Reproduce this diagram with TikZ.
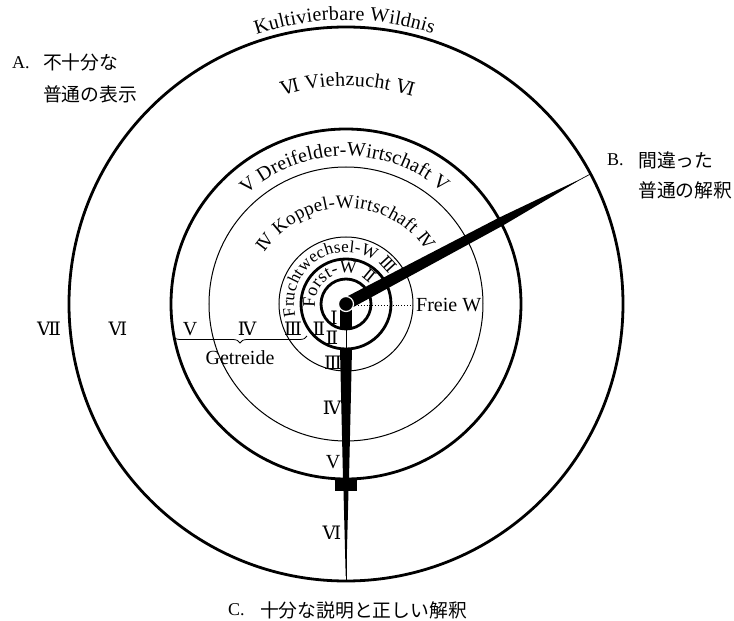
\documentclass[tikz,border=0pt]{standalone}
\usepackage{fontspec}
\setmainfont{Liberation Serif}
\newfontfamily\jpfont{Noto Sans CJK JP}
\newfontfamily\romfont{DejaVu Serif}
\usetikzlibrary{decorations.text,decorations.pathreplacing}
\newcommand\labsize{\rmfamily\fontsize{20}{24}\selectfont}
\newcommand\kopsize{\rmfamily\fontsize{19}{22}\selectfont}
\newcommand\numsize{\romfont\fontsize{18.5}{22}\selectfont}
\newcommand\innum{\romfont\fontsize{16.5}{20}\selectfont}
\newcommand\frsize{\rmfamily\fontsize{17}{20}\selectfont}
\newcommand\fosize{\rmfamily\fontsize{18}{20}\selectfont}
\newcommand\jpsize{\jpfont\fontsize{18.8}{22}\selectfont}
\tikzset{
  thickring/.style={line width=2.8pt},
  thinring/.style={line width=1pt},
  num/.style={inner sep=0pt,font=\numsize},
  lab/.style={inner sep=0pt,font=\labsize},
  jp/.style={inner sep=0pt,font=\jpsize,anchor=west},
  lat/.style={inner sep=0pt,font=\rmfamily\fontsize{18}{22}\selectfont,anchor=west},
  arctext/.style={decorate,decoration={text along path,text align=fit to path,text={#1}}},
  handfill/.style={fill=black,draw=none}
}
\begin{document}
\begin{tikzpicture}[x=1pt,y=1pt]
\useasboundingbox (-346,-317) rectangle (388,304);
\coordinate (O) at (0,0);
% rings
\draw[thickring] (O) circle (277);
\draw[thickring] (O) circle (175);
\draw[thinring] (O) circle (137);
\draw[thinring] (O) circle (67);
\draw[thickring] (O) circle (45);
\draw[thickring] (O) circle (25);
% curved labels
\path[arctext={|\labsize|Kultivierbare Wildnis}] (108.4:284) arc[start angle=108.4,end angle=72.2,radius=284];
\path[arctext={|\numsize|Ⅵ|\labsize| Viehzucht |\numsize|Ⅵ}] (106.9:218) arc[start angle=106.9,end angle=72.2,radius=218];
\path[arctext={|\labsize|V  Dreifelder-Wirtschaft  V}] (132.3:148) arc[start angle=132.3,end angle=49.1,radius=148];
\path[arctext={|\innum|Ⅳ|\kopsize| Koppel-Wirtschaft |\innum|Ⅳ}] (147.5:96) arc[start angle=147.5,end angle=33.5,radius=96];
\path[arctext={|\frsize|Fruchtwechsel-W |\innum|Ⅲ}] (194:52) arc[start angle=194,end angle=34,radius=52];
\path[arctext={|\fosize|Forst-W |\innum|Ⅱ}] (187:31) arc[start angle=187,end angle=40,radius=31];
% B hand
\begin{scope}[rotate=28]
\coordinate (Bend) at (277,0);
\fill[handfill] (0,6.2) -- (175,4.4) -- (240,1.5) -- (262,0.3) -- (262,-0.3) -- (240,-1.5) -- (175,-4.4) -- (0,-6.2) -- cycle;
\draw[line width=0.7pt] (O) -- (Bend);
\end{scope}
% C hand
\coordinate (r6) at (0,-25);
\coordinate (r5) at (0,-45);
\coordinate (Cend) at (0,-277);
\fill[handfill] (-6,0) rectangle (6,-25);
\draw[line width=0.8pt] (r6) -- (r5);
\fill[handfill] (-6,-45) -- (6,-45) -- (3,-175) -- (-3,-175) -- cycle;
\fill[handfill] (-11,-175) rectangle (11,-187);
\fill[handfill] (-2.5,-187) -- (2.5,-187) -- (0.3,-272) -- (-0.3,-272) -- cycle;
\draw[line width=0.7pt] (0,-187) -- (Cend);
% hub
\draw[white,line width=1.2pt,fill=black] (O) circle (7.5);
% Freie W
\coordinate (fw0) at (9,-1);
\coordinate (fw1) at (67,-1);
\draw[line width=0.9pt,dash pattern=on 0.9pt off 2pt] (fw0) -- (fw1);
\node[lab,anchor=base west] (freie) at (70,-8) {Freie W};
% Getreide brace
\coordinate (g0) at (-173,-32);
\coordinate (g1) at (-39,-32);
\draw[line width=0.8pt,decorate,decoration={brace,amplitude=7pt,mirror}] (g0) -- (g1);
\node[lab] (getreide) at (-106,-54) {Getreide};
% horizontal numerals
\node[num] (h7) at (-297,-25) {Ⅶ};
\node[num] (h6) at (-228,-25) {Ⅵ};
\node[lab] (h5) at (-156,-25) {V};
\node[num] (h4) at (-99,-25) {Ⅳ};
\node[num] (h3) at (-53,-25) {Ⅲ};
\node[num] (h2) at (-27,-25) {Ⅱ};
% vertical numerals
\node[num] (v1) at (-12,-13.5) {Ⅰ};
\node[num] (v2) at (-14,-33.5) {Ⅱ};
\node[num] (v3) at (-13,-58.5) {Ⅲ};
\node[num] (v4) at (-14,-104) {Ⅳ};
\node[lab] (v5) at (-13,-158) {V};
\node[num] (v6) at (-14,-229) {Ⅵ};
% side labels
\node[lat] (Aa) at (-334,241.5) {A.};
\node[jp] (A1) at (-303,242) {不十分な};
\node[jp] (A2) at (-303,209.5) {普通の表示};
\node[lat] (Bb) at (261,144) {B.};
\node[jp] (B1) at (292,144) {間違った};
\node[jp] (B2) at (292,114) {普通の解釈};
\node[lat] (Cc) at (-118,-306) {C.};
\node[jp] (C1) at (-86,-306) {十分な説明と正しい解釈};
\end{tikzpicture}
\end{document}
